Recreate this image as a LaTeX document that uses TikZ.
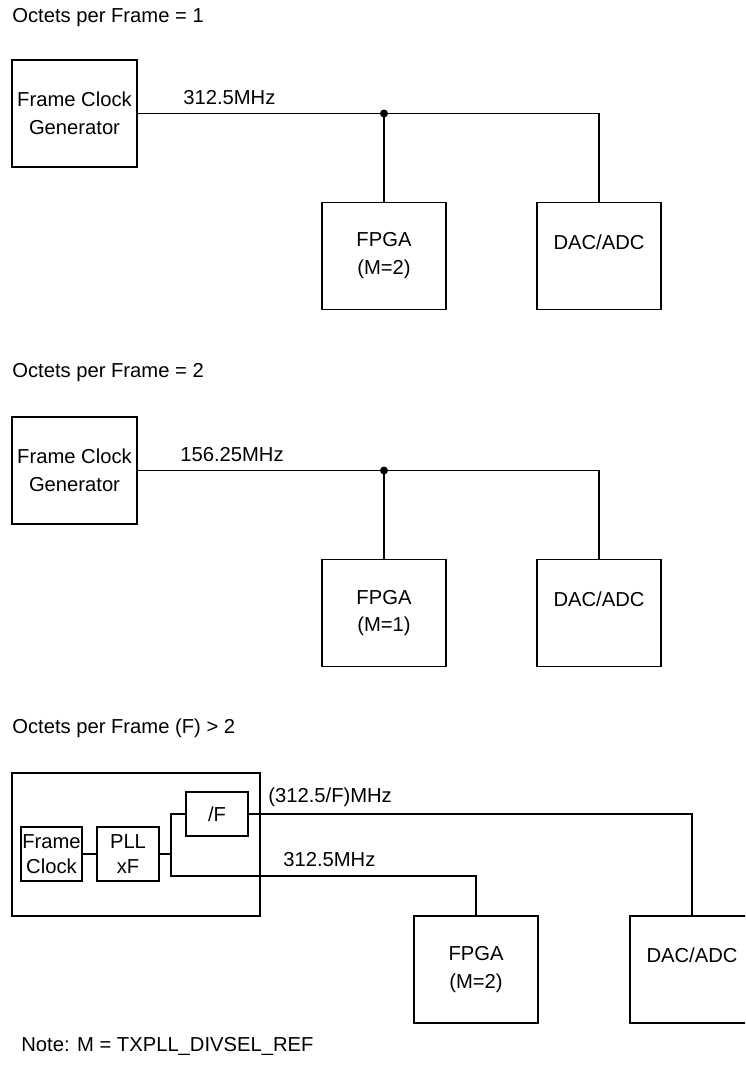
\documentclass[tikz,border=0pt]{standalone}
\usepackage{fontspec}
\setmainfont{Liberation Sans}
\usetikzlibrary{positioning}
\tikzset{
  blk/.style={draw,line width=0.7pt,inner sep=0pt,align=center,minimum width=2.48cm,minimum height=2.14cm,font=\fontsize{11.5pt}{15.9pt}\selectfont},
  subblk/.style={draw,line width=0.7pt,inner sep=0pt,align=center,minimum width=1.24cm,minimum height=1.08cm,font=\fontsize{11.5pt}{14.6pt}\selectfont},
  wire/.style={line width=0.7pt},
  lbl/.style={anchor=west,inner sep=0pt,font=\fontsize{11.5pt}{14pt}\selectfont}
}

\begin{document}
\begin{tikzpicture}[x=0.02cm,y=-0.02cm]
  \useasboundingbox (0,0) rectangle (745,1068);
  \clip (0,0) rectangle (745,1068);

  % F = 1
  \node[lbl] (titleA) at (12,18) {Octets per Frame = 1};
  \node[blk,minimum width=2.5cm] (fcgA) at (74.5,113.5) {Frame Clock\\Generator};
  \node[blk] (fpgaA) at (384,256) {FPGA\\(M=2)};
  \node[blk] (dacA) at (599,256) {DAC/ADC\\~};
  \coordinate (jA) at (fcgA.east -| fpgaA.north);
  \draw[wire] (fcgA.east) -| (dacA.north);
  \draw[wire] (jA) -- (fpgaA.north);
  \fill (jA) circle (0.08cm);
  \node[lbl] (fA) at (183,98) {312.5MHz};

  % F = 2
  \node[lbl] (titleB) at (12,373) {Octets per Frame = 2};
  \node[blk,minimum width=2.5cm] (fcgB) at (74.5,470.5) {Frame Clock\\Generator};
  \node[blk] (fpgaB) at (384,613) {FPGA\\(M=1)};
  \node[blk] (dacB) at (599,613) {DAC/ADC\\~};
  \coordinate (jB) at (fcgB.east -| fpgaB.north);
  \draw[wire] (fcgB.east) -| (dacB.north);
  \draw[wire] (jB) -- (fpgaB.north);
  \fill (jB) circle (0.08cm);
  \node[lbl] (fB) at (180,455) {156.25MHz};

  % F > 2
  \node[lbl] (titleC) at (12,728) {Octets per Frame (F) > 2};
  \node[draw,line width=0.7pt,minimum width=4.96cm,minimum height=2.86cm] (grp) at (136,844.5) {};
  \node[subblk,minimum width=1.22cm] (fclk) at (51.5,854) {Frame\\Clock};
  \node[subblk] (pll) at (128,854) {PLL\\xF};
  \node[subblk,minimum height=0.88cm] (divf) at (217,814) {/F};
  \node[blk] (fpgaC) at (476,969.5) {FPGA\\(M=2)};
  \node[blk] (dacC) at (692,969.5) {DAC/ADC\\~};
  \coordinate (lo) at (171,876);
  \draw[wire] (fclk) -- (pll);
  \draw[wire] (pll.east) -- (pll.east -| lo);
  \draw[wire] (divf.west) -| (lo) -| (fpgaC.north);
  \draw[wire] (divf.east) -| (dacC.north);
  \node[lbl] (fC) at (268,797) {(312.5/F)MHz};
  \node[lbl] (fD) at (283,860) {312.5MHz};

  \node[lbl] (note) at (21,1046) {Note: M = TXPLL\_DIVSEL\_REF};
\end{tikzpicture}
\end{document}
